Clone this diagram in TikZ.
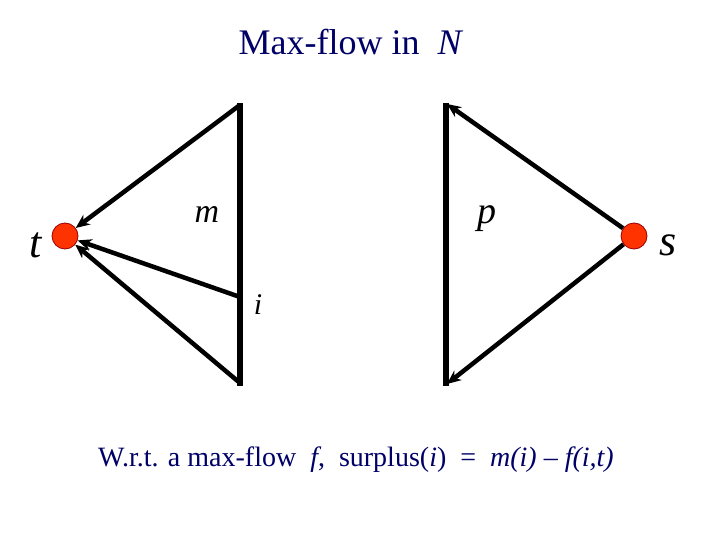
\documentclass[tikz,border=0pt]{standalone}
\usepackage{fontspec}
\setmainfont{Liberation Serif}
\usetikzlibrary{arrows.meta}
\definecolor{navy}{HTML}{000066}
\definecolor{vred}{HTML}{FF3300}
\definecolor{vdark}{HTML}{990000}
\begin{document}
\begin{tikzpicture}[x=1pt,y=-1pt,
  vert/.style={circle,fill=vred,draw=vdark,line width=0.8pt,minimum size=26pt,inner sep=0pt},
  bar/.style={line width=6pt},
  arc/.style={line width=4.5pt,-{Stealth[length=14pt,width=12pt]}},
  lbl/.style={font=\itshape,inner sep=0pt}]
\useasboundingbox (0,0) rectangle (720,540);
\node[navy,font=\fontsize{36}{40}\selectfont] (title) at (351,42) {Max-flow in\ \ \textit{N}};
\node[vert] (t) at (65,236) {};
\node[vert] (s) at (634,236) {};
\node[lbl,font=\fontsize{44}{48}\selectfont\itshape] (tl) at (36,245) {t};
\node[lbl,font=\fontsize{44}{48}\selectfont\itshape] (sl) at (668,245) {s};
\node[lbl,font=\fontsize{34}{38}\selectfont\itshape] (ml) at (207,214) {m};
\node[lbl,font=\fontsize{38}{42}\selectfont\itshape] (pl) at (487,219) {p};
\node[lbl,font=\fontsize{30}{34}\selectfont\itshape] (il) at (258,305) {i};
\coordinate (a1) at (240,103);
\coordinate (a2) at (240,297);
\coordinate (a3) at (240,386);
\coordinate (b1) at (446,103);
\coordinate (b2) at (446,386);
\draw[bar] (a1) -- (a3);
\draw[bar] (b1) -- (b2);
\draw[arc] (240,105) -- (t);
\draw[arc] (a2) -- (t);
\draw[arc] (240,383) -- (t);
\draw[arc] (s) -- (447,104);
\draw[arc] (s) -- (447,384);
\node[navy,font=\fontsize{28}{32}\selectfont] (bottom) at (356,460) {W.r.t. a max-flow\ \ \textit{f},\ \ surplus(\textit{i})\ \ =\ \ \textit{m(i)} -- \textit{f(i,t)}};
\end{tikzpicture}
\end{document}
